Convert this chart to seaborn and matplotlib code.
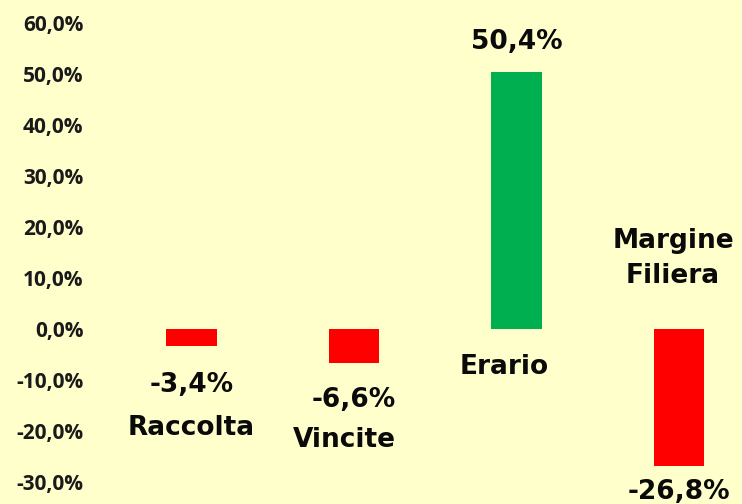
import matplotlib
matplotlib.use("Agg")
import matplotlib.pyplot as plt
import seaborn as sns

# dati
categorie = ["Raccolta", "Vincite", "Erario", "Margine\nFiliera"]
variazioni = [-3.4, -6.6, 50.4, -26.8]
etichette_valori = ["-3,4%", "-6,6%", "50,4%", "-26,8%"]
colori = ["#FF0000", "#FF0000", "#00B050", "#FF0000"]
tick_valori = [-30, -20, -10, 0, 10, 20, 30, 40, 50, 60]
tick_etichette = ["-30,0%", "-20,0%", "-10,0%", "0,0%", "10,0%",
                  "20,0%", "30,0%", "40,0%", "50,0%", "60,0%"]

# spostamenti delle etichette (pixel)
off_valori = [(0, -39), (0, -37), (0, 30), (0, -26)]
off_categorie = [(0, -99), (-10, -111), (-12, -38), (-6, 71)]

sns.set_theme(style="white")
plt.rcParams["font.family"] = ["Open Sans", "DejaVu Sans"]

sfondo = "#FFFFCC"
fig = plt.figure(figsize=(7.42, 5.04), dpi=100, facecolor=sfondo)
ax = fig.add_axes([110 / 742, 0, 1 - 110 / 742, 1])
ax.set_facecolor(sfondo)

sns.barplot(x=categorie, y=variazioni, hue=categorie, palette=colori,
            width=0.31, legend=False, saturation=1, linewidth=0, ax=ax)

ax.set_xlim(-0.502, 3.387)
ax.set_ylim(-34.3, 64.5)
ax.set_yticks(tick_valori)
ax.set_yticklabels(tick_etichette, fontsize=15, fontweight="bold", color="#1a1a1a")
ax.tick_params(axis="y", length=0, pad=19)
ax.set_xticks([])
sns.despine(ax=ax, left=True, bottom=True)

testo = dict(fontsize=19, fontweight="bold", color="#0a0a0a",
             family="DejaVu Sans", ha="center", va="center",
             textcoords="offset pixels", annotation_clip=False)

for i, (v, lab) in enumerate(zip(variazioni, etichette_valori)):
    ax.annotate(lab, xy=(i, v), xytext=off_valori[i], **testo)

for i, cat in enumerate(categorie):
    ax.annotate(cat, xy=(i, 0), xytext=off_categorie[i], linespacing=1.45, **testo)

fig.savefig("out.png", dpi=100, facecolor=sfondo)
